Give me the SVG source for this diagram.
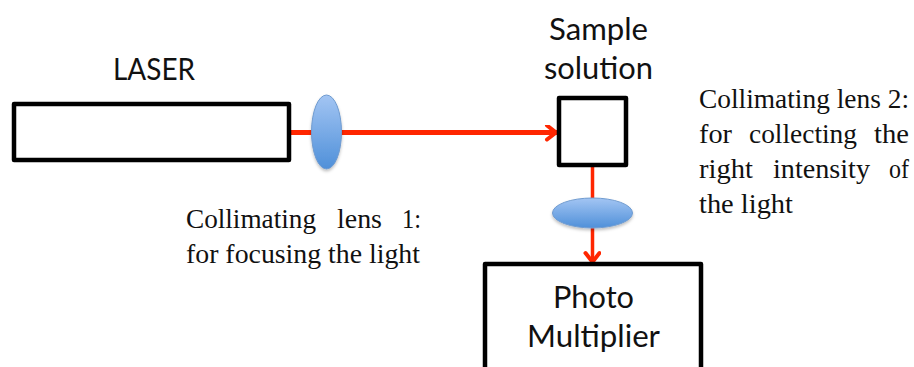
<svg xmlns="http://www.w3.org/2000/svg" width="914" height="367" viewBox="0 0 914 367">
<defs>
<linearGradient id="lensG" x1="0" y1="0" x2="0" y2="1"><stop offset="0" stop-color="#a3c5f3"/><stop offset="1" stop-color="#4f90d9"/></linearGradient>
<filter id="soft" x="-30%" y="-30%" width="160%" height="160%"><feDropShadow dx="0" dy="2" stdDeviation="1.500" flood-color="#000" flood-opacity="0.250"/></filter>
<marker id="arrow" markerUnits="userSpaceOnUse" markerWidth="18" markerHeight="18" refX="14" refY="8" orient="auto"><path d="M4 1L13 8L4 15" fill="none" stroke="#ff2600" stroke-width="4" stroke-linecap="round"/></marker>
</defs>
<style>
.box{fill:#fff;stroke:#000;stroke-width:4.500;stroke-linejoin:round}
.lens{stroke:#6f9bd0;stroke-width:1;fill:url(#lensG);filter:url(#soft)}
.wire{fill:none;stroke:#ff2600;marker-end:url(#arrow)}
text{fill:#111}
.big{font-family:Lato,"Open Sans",sans-serif;font-size:30px}
.small{font-family:"Liberation Serif","Times New Roman",serif;font-size:27px}
</style>
<rect width="914" height="367" fill="#fff"/>
<g id="connectors">
<line class="wire" x1="289" y1="132.500" x2="557" y2="132.500" stroke-width="5"/>
<line class="wire" x1="592.500" y1="165" x2="592.500" y2="263" stroke-width="3.500"/>
</g>
<g id="laser"><rect class="box" x="14" y="104" width="275" height="56"/><text class="big" x="113" y="80" textLength="82" lengthAdjust="spacingAndGlyphs">LASER</text></g>
<g id="lens1"><ellipse class="lens" cx="326.500" cy="132" rx="15" ry="37"/></g>
<g id="sample"><rect class="box" x="559" y="98" width="67" height="67"/><text class="big" x="549" y="40" textLength="99" lengthAdjust="spacingAndGlyphs">Sample</text><text class="big" x="544" y="79" textLength="109" lengthAdjust="spacingAndGlyphs">solution</text></g>
<g id="lens2"><ellipse class="lens" cx="592.500" cy="213" rx="40" ry="15"/></g>
<g id="photo"><path class="box" d="M485 369V264H701V369"/><text class="big" x="553" y="308" textLength="81" lengthAdjust="spacingAndGlyphs">Photo</text><text class="big" x="527" y="347" textLength="133" lengthAdjust="spacingAndGlyphs">Multiplier</text></g>
<g id="label1">
<text class="small" x="186" y="228" textLength="130" lengthAdjust="spacingAndGlyphs">Collimating</text>
<text class="small" x="337" y="228" textLength="45" lengthAdjust="spacingAndGlyphs">lens</text>
<text class="small" x="402" y="228" textLength="19" lengthAdjust="spacingAndGlyphs">1:</text>
<text class="small" x="186" y="263" textLength="234" lengthAdjust="spacingAndGlyphs">for focusing the light</text>
</g>
<g id="label2">
<text class="small" x="699" y="108" textLength="210" lengthAdjust="spacingAndGlyphs">Collimating lens 2:</text>
<text class="small" x="699" y="143" textLength="33" lengthAdjust="spacingAndGlyphs">for</text>
<text class="small" x="749" y="143" textLength="108" lengthAdjust="spacingAndGlyphs">collecting</text>
<text class="small" x="874" y="143" textLength="35" lengthAdjust="spacingAndGlyphs">the</text>
<text class="small" x="699" y="178" textLength="54" lengthAdjust="spacingAndGlyphs">right</text>
<text class="small" x="773" y="178" textLength="97" lengthAdjust="spacingAndGlyphs">intensity</text>
<text class="small" x="889" y="178" textLength="20" lengthAdjust="spacingAndGlyphs">of</text>
<text class="small" x="699" y="213" textLength="94" lengthAdjust="spacingAndGlyphs">the light</text>
</g>
</svg>
